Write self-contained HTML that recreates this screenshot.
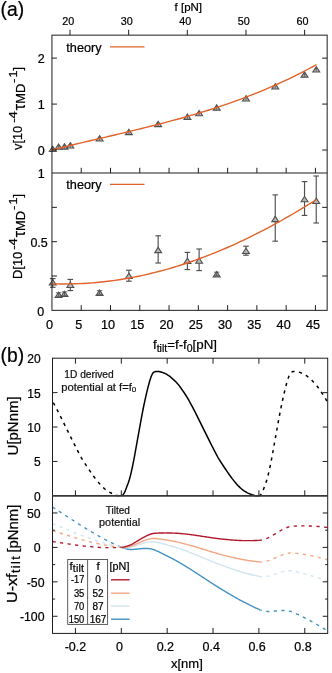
<!DOCTYPE html>
<html><head><meta charset="utf-8"><title>figure</title>
<style>html,body{margin:0;padding:0;background:#fff;}svg{display:block;will-change:transform;}text{font-family:"Liberation Sans", sans-serif;stroke:#000;stroke-width:0.22px;}</style></head><body>
<svg width="332" height="673" viewBox="0 0 332 673">
<rect x="0" y="0" width="332" height="673" fill="#ffffff"/>
<text x="0.50" y="15.90" font-size="19.3" text-anchor="start" fill="#000000" >(a)</text>
<line x1="52.75" y1="278.60" x2="52.75" y2="287.30" stroke="#505050" stroke-width="1.15" />
<line x1="49.95" y1="278.60" x2="55.55" y2="278.60" stroke="#505050" stroke-width="1.15" />
<line x1="49.95" y1="287.30" x2="55.55" y2="287.30" stroke="#505050" stroke-width="1.15" />
<line x1="70.32" y1="279.40" x2="70.32" y2="290.60" stroke="#505050" stroke-width="1.15" />
<line x1="67.52" y1="279.40" x2="73.12" y2="279.40" stroke="#505050" stroke-width="1.15" />
<line x1="67.52" y1="290.60" x2="73.12" y2="290.60" stroke="#505050" stroke-width="1.15" />
<line x1="128.87" y1="270.20" x2="128.87" y2="281.20" stroke="#505050" stroke-width="1.15" />
<line x1="126.07" y1="270.20" x2="131.67" y2="270.20" stroke="#505050" stroke-width="1.15" />
<line x1="126.07" y1="281.20" x2="131.67" y2="281.20" stroke="#505050" stroke-width="1.15" />
<line x1="158.15" y1="235.80" x2="158.15" y2="263.00" stroke="#505050" stroke-width="1.15" />
<line x1="155.35" y1="235.80" x2="160.95" y2="235.80" stroke="#505050" stroke-width="1.15" />
<line x1="155.35" y1="263.00" x2="160.95" y2="263.00" stroke="#505050" stroke-width="1.15" />
<line x1="187.42" y1="252.40" x2="187.42" y2="269.60" stroke="#505050" stroke-width="1.15" />
<line x1="184.62" y1="252.40" x2="190.22" y2="252.40" stroke="#505050" stroke-width="1.15" />
<line x1="184.62" y1="269.60" x2="190.22" y2="269.60" stroke="#505050" stroke-width="1.15" />
<line x1="199.13" y1="249.00" x2="199.13" y2="270.60" stroke="#505050" stroke-width="1.15" />
<line x1="196.33" y1="249.00" x2="201.93" y2="249.00" stroke="#505050" stroke-width="1.15" />
<line x1="196.33" y1="270.60" x2="201.93" y2="270.60" stroke="#505050" stroke-width="1.15" />
<line x1="245.98" y1="246.20" x2="245.98" y2="255.20" stroke="#505050" stroke-width="1.15" />
<line x1="243.18" y1="246.20" x2="248.78" y2="246.20" stroke="#505050" stroke-width="1.15" />
<line x1="243.18" y1="255.20" x2="248.78" y2="255.20" stroke="#505050" stroke-width="1.15" />
<line x1="275.25" y1="194.90" x2="275.25" y2="241.20" stroke="#505050" stroke-width="1.15" />
<line x1="272.45" y1="194.90" x2="278.05" y2="194.90" stroke="#505050" stroke-width="1.15" />
<line x1="272.45" y1="241.20" x2="278.05" y2="241.20" stroke="#505050" stroke-width="1.15" />
<line x1="304.53" y1="181.60" x2="304.53" y2="215.40" stroke="#505050" stroke-width="1.15" />
<line x1="301.73" y1="181.60" x2="307.33" y2="181.60" stroke="#505050" stroke-width="1.15" />
<line x1="301.73" y1="215.40" x2="307.33" y2="215.40" stroke="#505050" stroke-width="1.15" />
<line x1="316.24" y1="176.00" x2="316.24" y2="223.00" stroke="#505050" stroke-width="1.15" />
<line x1="313.44" y1="176.00" x2="319.04" y2="176.00" stroke="#505050" stroke-width="1.15" />
<line x1="313.44" y1="223.00" x2="319.04" y2="223.00" stroke="#505050" stroke-width="1.15" />
<path d="M52.75,279.65 L56.20,284.95 L49.30,284.95 Z" fill="#bababa" stroke="#505050" stroke-width="1.1" stroke-linejoin="miter"/>
<path d="M58.61,292.15 L62.06,297.45 L55.16,297.45 Z" fill="#bababa" stroke="#505050" stroke-width="1.1" stroke-linejoin="miter"/>
<line x1="58.61" y1="292.80" x2="58.61" y2="296.30" stroke="#505050" stroke-width="0.9" />
<line x1="55.91" y1="292.80" x2="61.31" y2="292.80" stroke="#505050" stroke-width="0.9" />
<line x1="56.41" y1="296.30" x2="60.81" y2="296.30" stroke="#505050" stroke-width="0.9" />
<path d="M64.46,291.25 L67.91,296.55 L61.01,296.55 Z" fill="#bababa" stroke="#505050" stroke-width="1.1" stroke-linejoin="miter"/>
<line x1="64.46" y1="291.90" x2="64.46" y2="295.40" stroke="#505050" stroke-width="0.9" />
<line x1="61.76" y1="291.90" x2="67.16" y2="291.90" stroke="#505050" stroke-width="0.9" />
<line x1="62.26" y1="295.40" x2="66.66" y2="295.40" stroke="#505050" stroke-width="0.9" />
<path d="M70.32,282.15 L73.77,287.45 L66.87,287.45 Z" fill="#bababa" stroke="#505050" stroke-width="1.1" stroke-linejoin="miter"/>
<path d="M99.59,290.05 L103.04,295.35 L96.14,295.35 Z" fill="#bababa" stroke="#505050" stroke-width="1.1" stroke-linejoin="miter"/>
<line x1="99.59" y1="290.70" x2="99.59" y2="294.20" stroke="#505050" stroke-width="0.9" />
<line x1="96.89" y1="290.70" x2="102.29" y2="290.70" stroke="#505050" stroke-width="0.9" />
<line x1="97.39" y1="294.20" x2="101.79" y2="294.20" stroke="#505050" stroke-width="0.9" />
<path d="M128.87,273.15 L132.32,278.45 L125.42,278.45 Z" fill="#bababa" stroke="#505050" stroke-width="1.1" stroke-linejoin="miter"/>
<path d="M158.15,247.35 L161.60,252.65 L154.70,252.65 Z" fill="#bababa" stroke="#505050" stroke-width="1.1" stroke-linejoin="miter"/>
<path d="M187.42,258.25 L190.87,263.55 L183.97,263.55 Z" fill="#bababa" stroke="#505050" stroke-width="1.1" stroke-linejoin="miter"/>
<path d="M199.13,257.95 L202.58,263.25 L195.68,263.25 Z" fill="#bababa" stroke="#505050" stroke-width="1.1" stroke-linejoin="miter"/>
<path d="M216.70,271.55 L220.15,276.85 L213.25,276.85 Z" fill="#bababa" stroke="#505050" stroke-width="1.1" stroke-linejoin="miter"/>
<line x1="216.70" y1="272.20" x2="216.70" y2="275.70" stroke="#505050" stroke-width="0.9" />
<line x1="214.00" y1="272.20" x2="219.40" y2="272.20" stroke="#505050" stroke-width="0.9" />
<line x1="214.50" y1="275.70" x2="218.90" y2="275.70" stroke="#505050" stroke-width="0.9" />
<path d="M245.98,248.15 L249.43,253.45 L242.53,253.45 Z" fill="#bababa" stroke="#505050" stroke-width="1.1" stroke-linejoin="miter"/>
<path d="M275.25,216.35 L278.70,221.65 L271.80,221.65 Z" fill="#bababa" stroke="#505050" stroke-width="1.1" stroke-linejoin="miter"/>
<path d="M304.53,196.45 L307.98,201.75 L301.08,201.75 Z" fill="#bababa" stroke="#505050" stroke-width="1.1" stroke-linejoin="miter"/>
<path d="M316.24,198.15 L319.69,203.45 L312.79,203.45 Z" fill="#bababa" stroke="#505050" stroke-width="1.1" stroke-linejoin="miter"/>
<path d="M52.75,146.25 L56.20,151.55 L49.30,151.55 Z" fill="#bababa" stroke="#505050" stroke-width="1.1" stroke-linejoin="miter"/>
<line x1="52.75" y1="147.70" x2="52.75" y2="151.00" stroke="#505050" stroke-width="0.8" />
<line x1="51.25" y1="148.20" x2="54.25" y2="148.20" stroke="#505050" stroke-width="0.7" />
<path d="M58.61,143.95 L62.06,149.25 L55.16,149.25 Z" fill="#bababa" stroke="#505050" stroke-width="1.1" stroke-linejoin="miter"/>
<line x1="58.61" y1="145.40" x2="58.61" y2="148.70" stroke="#505050" stroke-width="0.8" />
<line x1="57.11" y1="145.90" x2="60.11" y2="145.90" stroke="#505050" stroke-width="0.7" />
<path d="M64.46,143.85 L67.91,149.15 L61.01,149.15 Z" fill="#bababa" stroke="#505050" stroke-width="1.1" stroke-linejoin="miter"/>
<line x1="64.46" y1="145.30" x2="64.46" y2="148.60" stroke="#505050" stroke-width="0.8" />
<line x1="62.96" y1="145.80" x2="65.96" y2="145.80" stroke="#505050" stroke-width="0.7" />
<path d="M70.32,142.65 L73.77,147.95 L66.87,147.95 Z" fill="#bababa" stroke="#505050" stroke-width="1.1" stroke-linejoin="miter"/>
<line x1="70.32" y1="144.10" x2="70.32" y2="147.40" stroke="#505050" stroke-width="0.8" />
<line x1="68.82" y1="144.60" x2="71.82" y2="144.60" stroke="#505050" stroke-width="0.7" />
<path d="M99.59,135.65 L103.04,140.95 L96.14,140.95 Z" fill="#bababa" stroke="#505050" stroke-width="1.1" stroke-linejoin="miter"/>
<line x1="99.59" y1="137.10" x2="99.59" y2="140.40" stroke="#505050" stroke-width="0.8" />
<line x1="98.09" y1="137.60" x2="101.09" y2="137.60" stroke="#505050" stroke-width="0.7" />
<path d="M128.87,129.35 L132.32,134.65 L125.42,134.65 Z" fill="#bababa" stroke="#505050" stroke-width="1.1" stroke-linejoin="miter"/>
<line x1="128.87" y1="130.80" x2="128.87" y2="134.10" stroke="#505050" stroke-width="0.8" />
<line x1="127.37" y1="131.30" x2="130.37" y2="131.30" stroke="#505050" stroke-width="0.7" />
<path d="M158.15,121.35 L161.60,126.65 L154.70,126.65 Z" fill="#bababa" stroke="#505050" stroke-width="1.1" stroke-linejoin="miter"/>
<line x1="158.15" y1="122.80" x2="158.15" y2="126.10" stroke="#505050" stroke-width="0.8" />
<line x1="156.65" y1="123.30" x2="159.65" y2="123.30" stroke="#505050" stroke-width="0.7" />
<path d="M187.42,114.05 L190.87,119.35 L183.97,119.35 Z" fill="#bababa" stroke="#505050" stroke-width="1.1" stroke-linejoin="miter"/>
<line x1="187.42" y1="115.50" x2="187.42" y2="118.80" stroke="#505050" stroke-width="0.8" />
<line x1="185.92" y1="116.00" x2="188.92" y2="116.00" stroke="#505050" stroke-width="0.7" />
<path d="M199.13,110.45 L202.58,115.75 L195.68,115.75 Z" fill="#bababa" stroke="#505050" stroke-width="1.1" stroke-linejoin="miter"/>
<line x1="199.13" y1="111.90" x2="199.13" y2="115.20" stroke="#505050" stroke-width="0.8" />
<line x1="197.63" y1="112.40" x2="200.63" y2="112.40" stroke="#505050" stroke-width="0.7" />
<path d="M216.70,104.85 L220.15,110.15 L213.25,110.15 Z" fill="#bababa" stroke="#505050" stroke-width="1.1" stroke-linejoin="miter"/>
<line x1="216.70" y1="106.30" x2="216.70" y2="109.60" stroke="#505050" stroke-width="0.8" />
<line x1="215.20" y1="106.80" x2="218.20" y2="106.80" stroke="#505050" stroke-width="0.7" />
<path d="M245.98,95.65 L249.43,100.95 L242.53,100.95 Z" fill="#bababa" stroke="#505050" stroke-width="1.1" stroke-linejoin="miter"/>
<line x1="245.98" y1="97.10" x2="245.98" y2="100.40" stroke="#505050" stroke-width="0.8" />
<line x1="244.48" y1="97.60" x2="247.48" y2="97.60" stroke="#505050" stroke-width="0.7" />
<path d="M275.25,83.65 L278.70,88.95 L271.80,88.95 Z" fill="#bababa" stroke="#505050" stroke-width="1.1" stroke-linejoin="miter"/>
<line x1="275.25" y1="85.10" x2="275.25" y2="88.40" stroke="#505050" stroke-width="0.8" />
<line x1="273.75" y1="85.60" x2="276.75" y2="85.60" stroke="#505050" stroke-width="0.7" />
<path d="M304.53,71.85 L307.98,77.15 L301.08,77.15 Z" fill="#bababa" stroke="#505050" stroke-width="1.1" stroke-linejoin="miter"/>
<line x1="304.53" y1="73.30" x2="304.53" y2="76.60" stroke="#505050" stroke-width="0.8" />
<line x1="303.03" y1="73.80" x2="306.03" y2="73.80" stroke="#505050" stroke-width="0.7" />
<path d="M316.24,66.65 L319.69,71.95 L312.79,71.95 Z" fill="#bababa" stroke="#505050" stroke-width="1.1" stroke-linejoin="miter"/>
<line x1="316.24" y1="68.10" x2="316.24" y2="71.40" stroke="#505050" stroke-width="0.8" />
<line x1="314.74" y1="68.60" x2="317.74" y2="68.60" stroke="#505050" stroke-width="0.7" />
<path d="M51.95,149.95 L56.43,148.83 L60.92,147.73 L65.40,146.63 L69.88,145.55 L74.36,144.47 L78.85,143.40 L83.33,142.34 L87.81,141.28 L92.30,140.22 L96.78,139.17 L101.26,138.12 L105.74,137.07 L110.23,136.01 L114.71,134.96 L119.19,133.90 L123.68,132.83 L128.16,131.76 L132.64,130.69 L137.12,129.60 L141.61,128.50 L146.09,127.39 L150.57,126.27 L155.06,125.14 L159.54,123.99 L164.02,122.82 L168.50,121.64 L172.99,120.44 L177.47,119.21 L181.95,117.97 L186.44,116.70 L190.92,115.41 L195.40,114.10 L199.88,112.76 L204.37,111.39 L208.85,109.99 L213.33,108.57 L217.82,107.11 L222.30,105.62 L226.78,104.10 L231.26,102.54 L235.75,100.94 L240.23,99.31 L244.71,97.64 L249.20,95.93 L253.68,94.18 L258.16,92.38 L262.64,90.54 L267.13,88.66 L271.61,86.73 L276.09,84.76 L280.58,82.73 L285.06,80.66 L289.54,78.54 L294.03,76.36 L298.51,74.13 L302.99,71.84 L307.47,69.50 L311.96,67.10 L316.44,64.64" fill="none" stroke="#e2622a" stroke-width="1.4" stroke-linejoin="round" />
<path d="M51.95,283.70 L56.43,283.84 L60.92,283.93 L65.40,283.95 L69.88,283.92 L74.36,283.82 L78.85,283.67 L83.33,283.46 L87.81,283.19 L92.30,282.87 L96.78,282.48 L101.26,282.04 L105.74,281.55 L110.23,281.00 L114.71,280.39 L119.19,279.72 L123.68,279.00 L128.16,278.23 L132.64,277.40 L137.12,276.51 L141.61,275.57 L146.09,274.58 L150.57,273.53 L155.06,272.43 L159.54,271.27 L164.02,270.07 L168.50,268.81 L172.99,267.49 L177.47,266.13 L181.95,264.71 L186.44,263.24 L190.92,261.72 L195.40,260.15 L199.88,258.53 L204.37,256.86 L208.85,255.14 L213.33,253.37 L217.82,251.55 L222.30,249.67 L226.78,247.76 L231.26,245.79 L235.75,243.77 L240.23,241.70 L244.71,239.59 L249.20,237.43 L253.68,235.22 L258.16,232.97 L262.64,230.67 L267.13,228.32 L271.61,225.92 L276.09,223.48 L280.58,221.00 L285.06,218.47 L289.54,215.89 L294.03,213.27 L298.51,210.60 L302.99,207.89 L307.47,205.14 L311.96,202.34 L316.44,199.50" fill="none" stroke="#e2622a" stroke-width="1.4" stroke-linejoin="round" />
<rect x="51.95" y="35.15" width="275.20" height="275.20" fill="none" stroke="#1e1e1e" stroke-width="1.0"/>
<line x1="51.95" y1="173.00" x2="327.15" y2="173.00" stroke="#1e1e1e" stroke-width="1.0" />
<line x1="70.02" y1="35.15" x2="70.02" y2="29.75" stroke="#1e1e1e" stroke-width="1.0" />
<text x="68.22" y="25.30" font-size="10.8" text-anchor="middle" fill="#000000" >20</text>
<line x1="128.67" y1="35.15" x2="128.67" y2="29.75" stroke="#1e1e1e" stroke-width="1.0" />
<text x="126.77" y="25.30" font-size="10.8" text-anchor="middle" fill="#000000" >30</text>
<line x1="187.32" y1="35.15" x2="187.32" y2="29.75" stroke="#1e1e1e" stroke-width="1.0" />
<text x="185.32" y="25.30" font-size="10.8" text-anchor="middle" fill="#000000" >40</text>
<line x1="245.98" y1="35.15" x2="245.98" y2="29.75" stroke="#1e1e1e" stroke-width="1.0" />
<text x="243.88" y="25.30" font-size="10.8" text-anchor="middle" fill="#000000" >50</text>
<line x1="304.63" y1="35.15" x2="304.63" y2="29.75" stroke="#1e1e1e" stroke-width="1.0" />
<text x="302.43" y="25.30" font-size="10.8" text-anchor="middle" fill="#000000" >60</text>
<text x="188.30" y="11.00" font-size="11.5" text-anchor="middle" fill="#000000" >f [pN]</text>
<line x1="81.23" y1="173.00" x2="81.23" y2="167.80" stroke="#1e1e1e" stroke-width="1.0" />
<line x1="81.23" y1="310.35" x2="81.23" y2="305.15" stroke="#1e1e1e" stroke-width="1.0" />
<line x1="110.50" y1="173.00" x2="110.50" y2="167.80" stroke="#1e1e1e" stroke-width="1.0" />
<line x1="110.50" y1="310.35" x2="110.50" y2="305.15" stroke="#1e1e1e" stroke-width="1.0" />
<line x1="139.78" y1="173.00" x2="139.78" y2="167.80" stroke="#1e1e1e" stroke-width="1.0" />
<line x1="139.78" y1="310.35" x2="139.78" y2="305.15" stroke="#1e1e1e" stroke-width="1.0" />
<line x1="169.06" y1="173.00" x2="169.06" y2="167.80" stroke="#1e1e1e" stroke-width="1.0" />
<line x1="169.06" y1="310.35" x2="169.06" y2="305.15" stroke="#1e1e1e" stroke-width="1.0" />
<line x1="198.33" y1="173.00" x2="198.33" y2="167.80" stroke="#1e1e1e" stroke-width="1.0" />
<line x1="198.33" y1="310.35" x2="198.33" y2="305.15" stroke="#1e1e1e" stroke-width="1.0" />
<line x1="227.61" y1="173.00" x2="227.61" y2="167.80" stroke="#1e1e1e" stroke-width="1.0" />
<line x1="227.61" y1="310.35" x2="227.61" y2="305.15" stroke="#1e1e1e" stroke-width="1.0" />
<line x1="256.89" y1="173.00" x2="256.89" y2="167.80" stroke="#1e1e1e" stroke-width="1.0" />
<line x1="256.89" y1="310.35" x2="256.89" y2="305.15" stroke="#1e1e1e" stroke-width="1.0" />
<line x1="286.16" y1="173.00" x2="286.16" y2="167.80" stroke="#1e1e1e" stroke-width="1.0" />
<line x1="286.16" y1="310.35" x2="286.16" y2="305.15" stroke="#1e1e1e" stroke-width="1.0" />
<line x1="315.44" y1="173.00" x2="315.44" y2="167.80" stroke="#1e1e1e" stroke-width="1.0" />
<line x1="315.44" y1="310.35" x2="315.44" y2="305.15" stroke="#1e1e1e" stroke-width="1.0" />
<text x="49.45" y="328.50" font-size="12.7" text-anchor="middle" fill="#000000" >0</text>
<text x="78.73" y="328.50" font-size="12.7" text-anchor="middle" fill="#000000" >5</text>
<text x="108.00" y="328.50" font-size="12.7" text-anchor="middle" fill="#000000" >10</text>
<text x="137.28" y="328.50" font-size="12.7" text-anchor="middle" fill="#000000" >15</text>
<text x="166.56" y="328.50" font-size="12.7" text-anchor="middle" fill="#000000" >20</text>
<text x="195.83" y="328.50" font-size="12.7" text-anchor="middle" fill="#000000" >25</text>
<text x="225.11" y="328.50" font-size="12.7" text-anchor="middle" fill="#000000" >30</text>
<text x="254.39" y="328.50" font-size="12.7" text-anchor="middle" fill="#000000" >35</text>
<text x="283.66" y="328.50" font-size="12.7" text-anchor="middle" fill="#000000" >40</text>
<text x="312.94" y="328.50" font-size="12.7" text-anchor="middle" fill="#000000" >45</text>
<line x1="51.95" y1="150.03" x2="56.95" y2="150.03" stroke="#1e1e1e" stroke-width="1.0" />
<line x1="327.15" y1="150.03" x2="322.15" y2="150.03" stroke="#1e1e1e" stroke-width="1.0" />
<text x="44.60" y="155.03" font-size="12.5" text-anchor="end" fill="#000000" >0</text>
<line x1="51.95" y1="104.08" x2="56.95" y2="104.08" stroke="#1e1e1e" stroke-width="1.0" />
<line x1="327.15" y1="104.08" x2="322.15" y2="104.08" stroke="#1e1e1e" stroke-width="1.0" />
<text x="44.60" y="109.08" font-size="12.5" text-anchor="end" fill="#000000" >1</text>
<line x1="51.95" y1="58.12" x2="56.95" y2="58.12" stroke="#1e1e1e" stroke-width="1.0" />
<line x1="327.15" y1="58.12" x2="322.15" y2="58.12" stroke="#1e1e1e" stroke-width="1.0" />
<text x="44.60" y="63.12" font-size="12.5" text-anchor="end" fill="#000000" >2</text>
<line x1="51.95" y1="276.01" x2="56.95" y2="276.01" stroke="#1e1e1e" stroke-width="1.0" />
<line x1="327.15" y1="276.01" x2="322.15" y2="276.01" stroke="#1e1e1e" stroke-width="1.0" />
<line x1="51.95" y1="241.68" x2="56.95" y2="241.68" stroke="#1e1e1e" stroke-width="1.0" />
<line x1="327.15" y1="241.68" x2="322.15" y2="241.68" stroke="#1e1e1e" stroke-width="1.0" />
<line x1="51.95" y1="207.34" x2="56.95" y2="207.34" stroke="#1e1e1e" stroke-width="1.0" />
<line x1="327.15" y1="207.34" x2="322.15" y2="207.34" stroke="#1e1e1e" stroke-width="1.0" />
<text x="44.60" y="178.00" font-size="12.5" text-anchor="end" fill="#000000" >1</text>
<text x="47.80" y="246.68" font-size="12.5" text-anchor="end" fill="#000000" >0.5</text>
<text x="44.30" y="316.15" font-size="12.5" text-anchor="end" fill="#000000" >0</text>
<text x="66.30" y="51.80" font-size="12.5" text-anchor="start" fill="#000000" textLength="35.3" lengthAdjust="spacingAndGlyphs">theory</text>
<line x1="110.00" y1="46.90" x2="144.50" y2="46.90" stroke="#e2622a" stroke-width="1.4" />
<text x="66.30" y="189.30" font-size="12.5" text-anchor="start" fill="#000000" textLength="35.3" lengthAdjust="spacingAndGlyphs">theory</text>
<line x1="110.00" y1="184.40" x2="144.50" y2="184.40" stroke="#e2622a" stroke-width="1.4" />
<g transform="translate(0,150.0) rotate(-90)">
<text x="0" y="21.9" font-size="12.5" fill="#000000" textLength="24.2" lengthAdjust="spacingAndGlyphs">v[10</text>
<text x="27.30" y="16.6" font-size="10.3" fill="#000000" textLength="11.4" lengthAdjust="spacingAndGlyphs">-4</text>
<text x="39.80" y="24.5" font-size="16" fill="#000000">&#964;</text>
<text x="46.20" y="24.5" font-size="13" fill="#000000" textLength="20.0" lengthAdjust="spacingAndGlyphs">MD</text>
<text x="67.00" y="17.2" font-size="10.3" fill="#000000" textLength="4.2" lengthAdjust="spacingAndGlyphs">-</text>
<text x="72.60" y="17.2" font-size="10.8" fill="#000000" textLength="7.0" lengthAdjust="spacingAndGlyphs">1</text>
<text x="79.60" y="21.9" font-size="12.5" fill="#000000">]</text>
</g>
<g transform="translate(0,279.0) rotate(-90)">
<text x="0" y="21.9" font-size="12.5" fill="#000000" textLength="27.2" lengthAdjust="spacingAndGlyphs">D[10</text>
<text x="29.20" y="16.6" font-size="10.3" fill="#000000" textLength="11.4" lengthAdjust="spacingAndGlyphs">-4</text>
<text x="41.70" y="24.5" font-size="16" fill="#000000">&#964;</text>
<text x="48.10" y="24.5" font-size="13" fill="#000000" textLength="20.0" lengthAdjust="spacingAndGlyphs">MD</text>
<text x="68.90" y="17.2" font-size="10.3" fill="#000000" textLength="4.2" lengthAdjust="spacingAndGlyphs">-</text>
<text x="74.50" y="17.2" font-size="10.8" fill="#000000" textLength="7.0" lengthAdjust="spacingAndGlyphs">1</text>
<text x="81.50" y="21.9" font-size="12.5" fill="#000000">]</text>
</g>
<text x="153.0" y="348.9" font-size="13.2" fill="#000000" textLength="64.0" lengthAdjust="spacingAndGlyphs">f<tspan font-size="10.4" dy="2.9">tilt</tspan><tspan dy="-2.9">=f-f</tspan><tspan font-size="10.4" dy="2.9">0</tspan><tspan dy="-2.9">[pN]</tspan></text>
<text x="0.50" y="361.90" font-size="19.3" text-anchor="start" fill="#000000" >(b)</text>
<path d="M53.30,402.67 L54.30,404.49 L55.29,406.33 L56.29,408.19 L57.29,410.07 L58.29,412.00 L59.28,413.97 L60.28,415.99 L61.28,418.01 L62.27,420.04 L63.27,422.04 L64.27,424.04 L65.27,426.04 L66.26,428.05 L67.26,430.06 L68.26,432.07 L69.25,434.11 L70.25,436.14 L71.25,438.17 L72.24,440.18 L73.24,442.17 L74.24,444.15 L75.24,446.12 L76.23,448.07 L77.23,449.99 L78.23,451.91 L79.22,453.82 L80.22,455.70 L81.22,457.51 L82.22,459.22 L83.21,460.83 L84.21,462.36 L85.21,463.86 L86.20,465.34 L87.20,466.84 L88.20,468.35 L89.20,469.85 L90.19,471.33 L91.19,472.79 L92.19,474.21 L93.18,475.61 L94.18,476.99 L95.18,478.33 L96.18,479.63 L97.17,480.88 L98.17,482.11 L99.17,483.31 L100.16,484.44 L101.16,485.51 L102.16,486.51 L103.16,487.48 L104.15,488.38 L105.15,489.23 L106.15,489.99 L107.14,490.70 L108.14,491.36 L109.14,491.97 L110.13,492.52 L111.10,493.02 L112.02,493.48 L112.95,493.91 L113.88,494.30 L114.81,494.65 L115.73,494.96 L116.66,495.28 L117.59,495.55 L118.52,495.73 L119.44,495.79 L120.37,495.83 L121.30,495.85" fill="none" stroke="#000" stroke-width="1.5" stroke-linejoin="round" stroke-dasharray="3.2 4.4"/>
<path d="M258.90,495.85 L259.90,495.42 L260.89,494.45 L261.89,492.80 L262.89,490.78 L263.89,488.20 L264.88,485.48 L265.88,482.76 L266.88,479.77 L267.87,476.24 L268.87,472.12 L269.87,467.66 L270.87,462.74 L271.86,457.53 L272.86,452.10 L273.86,446.47 L274.85,440.92 L275.85,435.41 L276.85,429.90 L277.84,424.27 L278.84,418.73 L279.84,413.49 L280.84,408.48 L281.83,403.67 L282.83,399.02 L283.83,394.59 L284.82,390.37 L285.82,386.38 L286.82,382.75 L287.82,379.34 L288.81,376.53 L289.81,374.20 L290.81,372.72 L291.80,372.01 L292.80,371.60 L293.80,371.56 L294.80,371.56 L295.79,371.56 L296.79,371.61 L297.79,371.79 L298.78,372.07 L299.78,372.40 L300.78,372.74 L301.78,373.12 L302.77,373.56 L303.77,374.08 L304.77,374.64 L305.76,375.25 L306.76,375.94 L307.76,376.73 L308.76,377.59 L309.75,378.47 L310.75,379.37 L311.75,380.27 L312.74,381.21 L313.74,382.19 L314.74,383.24 L315.73,384.37 L316.73,385.63 L317.73,386.99 L318.73,388.40 L319.72,389.84 L320.72,391.27 L321.72,392.71 L322.71,394.18 L323.71,395.70 L324.71,397.29 L325.71,398.99 L326.70,400.82 L327.70,402.67" fill="none" stroke="#000" stroke-width="1.5" stroke-linejoin="round" stroke-dasharray="3.2 4.4"/>
<path d="M121.30,495.85 L122.29,495.42 L123.28,494.47 L124.27,492.84 L125.26,490.84 L126.25,488.29 L127.24,485.60 L128.23,482.90 L129.22,479.96 L130.21,476.48 L131.20,472.43 L132.19,468.03 L133.18,463.18 L134.17,458.02 L135.16,452.66 L136.15,447.08 L137.14,441.55 L138.13,436.09 L139.12,430.61 L140.11,425.04 L141.10,419.51 L142.09,414.27 L143.08,409.26 L144.07,404.46 L145.06,399.81 L146.05,395.37 L147.04,391.15 L148.03,387.13 L149.02,383.46 L150.01,380.02 L151.00,377.07 L151.99,374.68 L152.98,372.94 L153.97,372.15 L154.96,371.66 L155.95,371.56 L156.94,371.56 L157.93,371.56 L158.92,371.58 L159.91,371.73 L160.90,371.98 L161.89,372.30 L162.88,372.64 L163.87,372.99 L164.86,373.41 L165.85,373.90 L166.84,374.45 L167.83,375.04 L168.82,375.69 L169.81,376.45 L170.80,377.27 L171.79,378.15 L172.78,379.03 L173.77,379.92 L174.76,380.84 L175.75,381.79 L176.74,382.81 L177.73,383.89 L178.72,385.09 L179.71,386.40 L180.70,387.79 L181.69,389.21 L182.68,390.63 L183.67,392.05 L184.66,393.50 L185.65,394.98 L186.64,396.52 L187.63,398.15 L188.62,399.92 L189.61,401.76 L190.59,403.57 L191.58,405.39 L192.57,407.22 L193.56,409.08 L194.55,410.97 L195.54,412.90 L196.53,414.88 L197.52,416.89 L198.51,418.90 L199.50,420.90 L200.49,422.89 L201.48,424.88 L202.47,426.87 L203.46,428.86 L204.45,430.85 L205.44,432.86 L206.43,434.88 L207.42,436.90 L208.41,438.91 L209.40,440.89 L210.39,442.87 L211.38,444.83 L212.37,446.78 L213.36,448.70 L214.35,450.61 L215.34,452.51 L216.33,454.41 L217.32,456.26 L218.31,458.03 L219.30,459.69 L220.29,461.26 L221.28,462.77 L222.27,464.25 L223.26,465.73 L224.25,467.22 L225.24,468.72 L226.23,470.20 L227.22,471.67 L228.21,473.11 L229.20,474.51 L230.19,475.90 L231.18,477.26 L232.17,478.59 L233.16,479.86 L234.15,481.11 L235.14,482.32 L236.13,483.50 L237.12,484.62 L238.11,485.66 L239.10,486.65 L240.09,487.60 L241.08,488.50 L242.07,489.33 L243.06,490.08 L244.05,490.77 L245.04,491.42 L246.03,492.02 L247.02,492.57 L248.01,493.06 L249.00,493.51 L249.99,493.93 L250.98,494.32 L251.97,494.66 L252.96,494.97 L253.95,495.29 L254.94,495.56 L255.93,495.73 L256.92,495.79 L257.91,495.83 L258.90,495.85" fill="none" stroke="#000" stroke-width="1.5" stroke-linejoin="round" />
<clipPath id="cb"><rect x="52.5" y="495.85" width="275.20" height="137.55"/></clipPath>
<g clip-path="url(#cb)">
<path d="M52.50,507.08 L53.50,507.72 L54.49,508.35 L55.49,508.98 L56.49,509.62 L57.49,510.26 L58.48,510.91 L59.48,511.56 L60.48,512.21 L61.47,512.86 L62.47,513.51 L63.47,514.16 L64.47,514.81 L65.46,515.46 L66.46,516.11 L67.46,516.76 L68.45,517.42 L69.45,518.07 L70.45,518.72 L71.44,519.37 L72.44,520.02 L73.44,520.67 L74.44,521.31 L75.43,521.96 L76.43,522.60 L77.43,523.24 L78.42,523.88 L79.42,524.52 L80.42,525.15 L81.42,525.77 L82.41,526.38 L83.41,526.98 L84.41,527.58 L85.40,528.18 L86.40,528.78 L87.40,529.38 L88.40,529.98 L89.39,530.57 L90.39,531.17 L91.39,531.76 L92.38,532.35 L93.38,532.94 L94.38,533.52 L95.38,534.10 L96.37,534.67 L97.37,535.25 L98.37,535.81 L99.36,536.38 L100.36,536.93 L101.36,537.48 L102.36,538.03 L103.35,538.57 L104.35,539.10 L105.35,539.63 L106.34,540.15 L107.34,540.66 L108.34,541.17 L109.33,541.68 L110.33,542.18 L111.33,542.67 L112.33,543.16 L113.32,543.65 L114.32,544.14 L115.32,544.62 L116.31,545.10 L117.31,545.57 L118.31,546.04 L119.31,546.50 L120.30,546.95 L121.30,547.40" fill="none" stroke="#4393c3" stroke-width="1.4" stroke-linejoin="round" stroke-dasharray="3.2 4.4"/>
<path d="M258.90,609.38 L259.90,609.79 L260.89,610.14 L261.89,610.42 L262.89,610.67 L263.89,610.86 L264.88,611.04 L265.88,611.22 L266.88,611.37 L267.87,611.46 L268.87,611.50 L269.87,611.50 L270.87,611.46 L271.86,611.39 L272.86,611.29 L273.86,611.18 L274.85,611.07 L275.85,610.97 L276.85,610.87 L277.84,610.75 L278.84,610.65 L279.84,610.57 L280.84,610.52 L281.83,610.49 L282.83,610.47 L283.83,610.48 L284.82,610.51 L285.82,610.56 L286.82,610.64 L287.82,610.75 L288.81,610.92 L289.81,611.13 L290.81,611.44 L291.80,611.81 L292.80,612.22 L293.80,612.67 L294.80,613.12 L295.79,613.56 L296.79,614.02 L297.79,614.49 L298.78,614.96 L299.78,615.45 L300.78,615.93 L301.78,616.42 L302.77,616.91 L303.77,617.41 L304.77,617.92 L305.76,618.43 L306.76,618.94 L307.76,619.47 L308.76,620.01 L309.75,620.54 L310.75,621.08 L311.75,621.62 L312.74,622.17 L313.74,622.71 L314.74,623.27 L315.73,623.83 L316.73,624.40 L317.73,624.99 L318.73,625.58 L319.72,626.17 L320.72,626.77 L321.72,627.36 L322.71,627.95 L323.71,628.56 L324.71,629.16 L325.71,629.78 L326.70,630.42 L327.70,631.05" fill="none" stroke="#4393c3" stroke-width="1.4" stroke-linejoin="round" stroke-dasharray="3.2 4.4"/>
<path d="M121.30,547.40 L122.29,547.80 L123.28,548.15 L124.27,548.44 L125.26,548.68 L126.25,548.87 L127.24,549.05 L128.23,549.23 L129.22,549.38 L130.21,549.48 L131.20,549.52 L132.19,549.52 L133.18,549.48 L134.17,549.41 L135.16,549.32 L136.15,549.21 L137.14,549.10 L138.13,549.00 L139.12,548.90 L140.11,548.79 L141.10,548.68 L142.09,548.60 L143.08,548.55 L144.07,548.51 L145.06,548.49 L146.05,548.49 L147.04,548.52 L148.03,548.56 L149.02,548.64 L150.01,548.74 L151.00,548.89 L151.99,549.10 L152.98,549.37 L153.97,549.74 L154.96,550.13 L155.95,550.57 L156.94,551.02 L157.93,551.46 L158.92,551.91 L159.91,552.37 L160.90,552.84 L161.89,553.32 L162.88,553.80 L163.87,554.28 L164.86,554.77 L165.85,555.26 L166.84,555.76 L167.83,556.27 L168.82,556.78 L169.81,557.30 L170.80,557.83 L171.79,558.36 L172.78,558.90 L173.77,559.43 L174.76,559.97 L175.75,560.51 L176.74,561.06 L177.73,561.61 L178.72,562.18 L179.71,562.76 L180.70,563.34 L181.69,563.93 L182.68,564.52 L183.67,565.11 L184.66,565.70 L185.65,566.29 L186.64,566.89 L187.63,567.50 L188.62,568.12 L189.61,568.75 L190.59,569.38 L191.58,570.01 L192.57,570.64 L193.56,571.27 L194.55,571.90 L195.54,572.54 L196.53,573.19 L197.52,573.83 L198.51,574.48 L199.50,575.13 L200.49,575.77 L201.48,576.42 L202.47,577.06 L203.46,577.71 L204.45,578.35 L205.44,579.00 L206.43,579.65 L207.42,580.30 L208.41,580.94 L209.40,581.59 L210.39,582.23 L211.38,582.87 L212.37,583.51 L213.36,584.15 L214.35,584.79 L215.34,585.43 L216.33,586.06 L217.32,586.69 L218.31,587.32 L219.30,587.93 L220.29,588.53 L221.28,589.13 L222.27,589.72 L223.26,590.32 L224.25,590.91 L225.24,591.51 L226.23,592.10 L227.22,592.69 L228.21,593.28 L229.20,593.87 L230.19,594.45 L231.18,595.04 L232.17,595.62 L233.16,596.19 L234.15,596.76 L235.14,597.33 L236.13,597.89 L237.12,598.45 L238.11,599.00 L239.10,599.54 L240.09,600.09 L241.08,600.62 L242.07,601.15 L243.06,601.67 L244.05,602.19 L245.04,602.70 L246.03,603.20 L247.02,603.70 L248.01,604.20 L249.00,604.69 L249.99,605.18 L250.98,605.66 L251.97,606.14 L252.96,606.62 L253.95,607.10 L254.94,607.57 L255.93,608.03 L256.92,608.49 L257.91,608.94 L258.90,609.38" fill="none" stroke="#4393c3" stroke-width="1.4" stroke-linejoin="round" />
<path d="M52.50,523.61 L53.50,524.01 L54.49,524.40 L55.49,524.79 L56.49,525.19 L57.49,525.59 L58.48,526.00 L59.48,526.41 L60.48,526.83 L61.47,527.24 L62.47,527.65 L63.47,528.06 L64.47,528.47 L65.46,528.88 L66.46,529.29 L67.46,529.70 L68.45,530.11 L69.45,530.53 L70.45,530.94 L71.44,531.35 L72.44,531.76 L73.44,532.17 L74.44,532.57 L75.43,532.98 L76.43,533.38 L77.43,533.78 L78.42,534.18 L79.42,534.58 L80.42,534.97 L81.42,535.35 L82.41,535.72 L83.41,536.08 L84.41,536.44 L85.40,536.80 L86.40,537.16 L87.40,537.52 L88.40,537.88 L89.39,538.24 L90.39,538.59 L91.39,538.95 L92.38,539.30 L93.38,539.64 L94.38,539.99 L95.38,540.33 L96.37,540.66 L97.37,540.99 L98.37,541.32 L99.36,541.65 L100.36,541.96 L101.36,542.27 L102.36,542.58 L103.35,542.88 L104.35,543.17 L105.35,543.46 L106.34,543.74 L107.34,544.02 L108.34,544.29 L109.33,544.55 L110.33,544.81 L111.33,545.07 L112.33,545.32 L113.32,545.57 L114.32,545.81 L115.32,546.05 L116.31,546.29 L117.31,546.53 L118.31,546.76 L119.31,546.98 L120.30,547.19 L121.30,547.40" fill="none" stroke="#d1e5f0" stroke-width="1.4" stroke-linejoin="round" stroke-dasharray="3.2 4.4"/>
<path d="M258.90,576.33 L259.90,576.49 L260.89,576.60 L261.89,576.65 L262.89,576.66 L263.89,576.61 L264.88,576.55 L265.88,576.48 L266.88,576.39 L267.87,576.25 L268.87,576.05 L269.87,575.81 L270.87,575.53 L271.86,575.22 L272.86,574.88 L273.86,574.53 L274.85,574.18 L275.85,573.84 L276.85,573.50 L277.84,573.15 L278.84,572.80 L279.84,572.49 L280.84,572.19 L281.83,571.92 L282.83,571.67 L283.83,571.43 L284.82,571.22 L285.82,571.03 L286.82,570.88 L287.82,570.75 L288.81,570.67 L289.81,570.65 L290.81,570.71 L291.80,570.85 L292.80,571.02 L293.80,571.22 L294.80,571.43 L295.79,571.64 L296.79,571.86 L297.79,572.09 L298.78,572.32 L299.78,572.57 L300.78,572.81 L301.78,573.06 L302.77,573.31 L303.77,573.57 L304.77,573.84 L305.76,574.11 L306.76,574.39 L307.76,574.68 L308.76,574.97 L309.75,575.27 L310.75,575.57 L311.75,575.87 L312.74,576.17 L313.74,576.48 L314.74,576.79 L315.73,577.12 L316.73,577.45 L317.73,577.80 L318.73,578.15 L319.72,578.50 L320.72,578.86 L321.72,579.21 L322.71,579.57 L323.71,579.93 L324.71,580.30 L325.71,580.68 L326.70,581.07 L327.70,581.46" fill="none" stroke="#d1e5f0" stroke-width="1.4" stroke-linejoin="round" stroke-dasharray="3.2 4.4"/>
<path d="M121.30,547.40 L122.29,547.57 L123.28,547.68 L124.27,547.72 L125.26,547.73 L126.25,547.68 L127.24,547.62 L128.23,547.56 L129.22,547.47 L130.21,547.33 L131.20,547.14 L132.19,546.91 L133.18,546.63 L134.17,546.32 L135.16,545.99 L136.15,545.64 L137.14,545.30 L138.13,544.96 L139.12,544.62 L140.11,544.27 L141.10,543.92 L142.09,543.61 L143.08,543.31 L144.07,543.04 L145.06,542.78 L146.05,542.55 L147.04,542.33 L148.03,542.14 L149.02,541.98 L150.01,541.84 L151.00,541.76 L151.99,541.73 L152.98,541.76 L153.97,541.89 L154.96,542.05 L155.95,542.25 L156.94,542.45 L157.93,542.66 L158.92,542.87 L159.91,543.10 L160.90,543.33 L161.89,543.57 L162.88,543.81 L163.87,544.05 L164.86,544.30 L165.85,544.56 L166.84,544.82 L167.83,545.09 L168.82,545.37 L169.81,545.65 L170.80,545.94 L171.79,546.23 L172.78,546.53 L173.77,546.83 L174.76,547.13 L175.75,547.43 L176.74,547.74 L177.73,548.06 L178.72,548.39 L179.71,548.73 L180.70,549.07 L181.69,549.42 L182.68,549.77 L183.67,550.12 L184.66,550.48 L185.65,550.83 L186.64,551.20 L187.63,551.57 L188.62,551.95 L189.61,552.34 L190.59,552.73 L191.58,553.12 L192.57,553.51 L193.56,553.91 L194.55,554.31 L195.54,554.71 L196.53,555.11 L197.52,555.52 L198.51,555.93 L199.50,556.34 L200.49,556.75 L201.48,557.15 L202.47,557.56 L203.46,557.97 L204.45,558.38 L205.44,558.79 L206.43,559.20 L207.42,559.61 L208.41,560.01 L209.40,560.42 L210.39,560.83 L211.38,561.23 L212.37,561.63 L213.36,562.04 L214.35,562.43 L215.34,562.83 L216.33,563.23 L217.32,563.62 L218.31,564.01 L219.30,564.38 L220.29,564.75 L221.28,565.11 L222.27,565.46 L223.26,565.82 L224.25,566.18 L225.24,566.54 L226.23,566.89 L227.22,567.25 L228.21,567.60 L229.20,567.95 L230.19,568.29 L231.18,568.64 L232.17,568.98 L233.16,569.32 L234.15,569.65 L235.14,569.98 L236.13,570.30 L237.12,570.62 L238.11,570.94 L239.10,571.24 L240.09,571.55 L241.08,571.84 L242.07,572.13 L243.06,572.42 L244.05,572.70 L245.04,572.97 L246.03,573.24 L247.02,573.50 L248.01,573.76 L249.00,574.01 L249.99,574.26 L250.98,574.51 L251.97,574.75 L252.96,574.99 L253.95,575.23 L254.94,575.46 L255.93,575.69 L256.92,575.90 L257.91,576.12 L258.90,576.33" fill="none" stroke="#d1e5f0" stroke-width="1.4" stroke-linejoin="round" />
<path d="M52.50,530.84 L53.50,531.13 L54.49,531.42 L55.49,531.71 L56.49,532.00 L57.49,532.30 L58.48,532.60 L59.48,532.91 L60.48,533.22 L61.47,533.53 L62.47,533.83 L63.47,534.14 L64.47,534.44 L65.46,534.75 L66.46,535.05 L67.46,535.36 L68.45,535.67 L69.45,535.98 L70.45,536.28 L71.44,536.59 L72.44,536.89 L73.44,537.20 L74.44,537.50 L75.43,537.80 L76.43,538.09 L77.43,538.39 L78.42,538.69 L79.42,538.98 L80.42,539.27 L81.42,539.54 L82.41,539.81 L83.41,540.07 L84.41,540.32 L85.40,540.57 L86.40,540.83 L87.40,541.08 L88.40,541.34 L89.39,541.59 L90.39,541.84 L91.39,542.09 L92.38,542.34 L93.38,542.58 L94.38,542.82 L95.38,543.05 L96.37,543.28 L97.37,543.51 L98.37,543.73 L99.36,543.95 L100.36,544.16 L101.36,544.37 L102.36,544.57 L103.35,544.77 L104.35,544.96 L105.35,545.14 L106.34,545.31 L107.34,545.48 L108.34,545.65 L109.33,545.81 L110.33,545.96 L111.33,546.12 L112.33,546.26 L113.32,546.41 L114.32,546.55 L115.32,546.68 L116.31,546.82 L117.31,546.95 L118.31,547.07 L119.31,547.18 L120.30,547.29 L121.30,547.40" fill="none" stroke="#f4a582" stroke-width="1.4" stroke-linejoin="round" stroke-dasharray="3.2 4.4"/>
<path d="M258.90,561.86 L259.90,561.92 L260.89,561.93 L261.89,561.87 L262.89,561.77 L263.89,561.62 L264.88,561.45 L265.88,561.29 L266.88,561.09 L267.87,560.84 L268.87,560.54 L269.87,560.19 L270.87,559.81 L271.86,559.39 L272.86,558.95 L273.86,558.49 L274.85,558.04 L275.85,557.60 L276.85,557.15 L277.84,556.69 L278.84,556.24 L279.84,555.82 L280.84,555.43 L281.83,555.05 L282.83,554.69 L283.83,554.35 L284.82,554.03 L285.82,553.74 L286.82,553.48 L287.82,553.24 L288.81,553.07 L289.81,552.94 L290.81,552.90 L291.80,552.93 L292.80,552.99 L293.80,553.09 L294.80,553.20 L295.79,553.30 L296.79,553.41 L297.79,553.54 L298.78,553.67 L299.78,553.81 L300.78,553.95 L301.78,554.09 L302.77,554.24 L303.77,554.39 L304.77,554.56 L305.76,554.72 L306.76,554.89 L307.76,555.08 L308.76,555.27 L309.75,555.46 L310.75,555.66 L311.75,555.85 L312.74,556.05 L313.74,556.25 L314.74,556.46 L315.73,556.68 L316.73,556.91 L317.73,557.15 L318.73,557.40 L319.72,557.65 L320.72,557.90 L321.72,558.14 L322.71,558.40 L323.71,558.65 L324.71,558.92 L325.71,559.19 L326.70,559.48 L327.70,559.77" fill="none" stroke="#f4a582" stroke-width="1.4" stroke-linejoin="round" stroke-dasharray="3.2 4.4"/>
<path d="M121.30,547.40 L122.29,547.46 L123.28,547.47 L124.27,547.41 L125.26,547.32 L126.25,547.16 L127.24,547.00 L128.23,546.83 L129.22,546.64 L130.21,546.40 L131.20,546.10 L132.19,545.76 L133.18,545.38 L134.17,544.97 L135.16,544.53 L136.15,544.08 L137.14,543.63 L138.13,543.19 L139.12,542.75 L140.11,542.29 L141.10,541.84 L142.09,541.42 L143.08,541.02 L144.07,540.65 L145.06,540.29 L146.05,539.95 L147.04,539.63 L148.03,539.33 L149.02,539.07 L150.01,538.83 L151.00,538.64 L151.99,538.50 L152.98,538.43 L153.97,538.46 L154.96,538.51 L155.95,538.60 L156.94,538.71 L157.93,538.81 L158.92,538.92 L159.91,539.04 L160.90,539.17 L161.89,539.30 L162.88,539.44 L163.87,539.58 L164.86,539.73 L165.85,539.88 L166.84,540.04 L167.83,540.20 L168.82,540.37 L169.81,540.55 L170.80,540.74 L171.79,540.93 L172.78,541.12 L173.77,541.31 L174.76,541.51 L175.75,541.71 L176.74,541.92 L177.73,542.13 L178.72,542.35 L179.71,542.59 L180.70,542.83 L181.69,543.08 L182.68,543.32 L183.67,543.57 L184.66,543.82 L185.65,544.07 L186.64,544.33 L187.63,544.59 L188.62,544.88 L189.61,545.16 L190.59,545.45 L191.58,545.74 L192.57,546.02 L193.56,546.31 L194.55,546.61 L195.54,546.90 L196.53,547.21 L197.52,547.51 L198.51,547.82 L199.50,548.12 L200.49,548.42 L201.48,548.73 L202.47,549.03 L203.46,549.33 L204.45,549.64 L205.44,549.94 L206.43,550.25 L207.42,550.55 L208.41,550.86 L209.40,551.16 L210.39,551.46 L211.38,551.76 L212.37,552.06 L213.36,552.36 L214.35,552.65 L215.34,552.95 L216.33,553.24 L217.32,553.53 L218.31,553.81 L219.30,554.08 L220.29,554.34 L221.28,554.60 L222.27,554.85 L223.26,555.10 L224.25,555.36 L225.24,555.61 L226.23,555.86 L227.22,556.11 L228.21,556.36 L229.20,556.61 L230.19,556.85 L231.18,557.09 L232.17,557.33 L233.16,557.56 L234.15,557.79 L235.14,558.01 L236.13,558.23 L237.12,558.45 L238.11,558.66 L239.10,558.86 L240.09,559.06 L241.08,559.25 L242.07,559.44 L243.06,559.62 L244.05,559.79 L245.04,559.96 L246.03,560.13 L247.02,560.29 L248.01,560.44 L249.00,560.59 L249.99,560.73 L250.98,560.88 L251.97,561.02 L252.96,561.15 L253.95,561.29 L254.94,561.42 L255.93,561.54 L256.92,561.65 L257.91,561.76 L258.90,561.86" fill="none" stroke="#f4a582" stroke-width="1.4" stroke-linejoin="round" />
<path d="M52.50,541.59 L53.50,541.72 L54.49,541.85 L55.49,541.99 L56.49,542.13 L57.49,542.27 L58.48,542.41 L59.48,542.56 L60.48,542.72 L61.47,542.87 L62.47,543.02 L63.47,543.17 L64.47,543.32 L65.46,543.47 L66.46,543.62 L67.46,543.77 L68.45,543.92 L69.45,544.07 L70.45,544.22 L71.44,544.37 L72.44,544.52 L73.44,544.67 L74.44,544.82 L75.43,544.96 L76.43,545.10 L77.43,545.24 L78.42,545.38 L79.42,545.52 L80.42,545.65 L81.42,545.77 L82.41,545.88 L83.41,545.98 L84.41,546.08 L85.40,546.18 L86.40,546.28 L87.40,546.38 L88.40,546.48 L89.39,546.58 L90.39,546.67 L91.39,546.76 L92.38,546.85 L93.38,546.94 L94.38,547.02 L95.38,547.10 L96.37,547.17 L97.37,547.25 L98.37,547.32 L99.36,547.38 L100.36,547.43 L101.36,547.48 L102.36,547.53 L103.35,547.57 L104.35,547.60 L105.35,547.63 L106.34,547.65 L107.34,547.66 L108.34,547.67 L109.33,547.68 L110.33,547.68 L111.33,547.67 L112.33,547.66 L113.32,547.65 L114.32,547.64 L115.32,547.62 L116.31,547.60 L117.31,547.57 L118.31,547.54 L119.31,547.50 L120.30,547.45 L121.30,547.40" fill="none" stroke="#b2182b" stroke-width="1.4" stroke-linejoin="round" stroke-dasharray="3.2 4.4"/>
<path d="M258.90,540.38 L259.90,540.28 L260.89,540.13 L261.89,539.92 L262.89,539.66 L263.89,539.35 L264.88,539.03 L265.88,538.71 L266.88,538.36 L267.87,537.95 L268.87,537.49 L269.87,536.99 L270.87,536.45 L271.86,535.88 L272.86,535.28 L273.86,534.67 L274.85,534.06 L275.85,533.46 L276.85,532.86 L277.84,532.25 L278.84,531.64 L279.84,531.07 L280.84,530.51 L281.83,529.98 L282.83,529.46 L283.83,528.97 L284.82,528.50 L285.82,528.05 L286.82,527.63 L287.82,527.24 L288.81,526.91 L289.81,526.62 L290.81,526.43 L291.80,526.30 L292.80,526.21 L293.80,526.16 L294.80,526.11 L295.79,526.05 L296.79,526.01 L297.79,525.98 L298.78,525.95 L299.78,525.94 L300.78,525.92 L301.78,525.90 L302.77,525.90 L303.77,525.90 L304.77,525.91 L305.76,525.92 L306.76,525.93 L307.76,525.96 L308.76,526.00 L309.75,526.03 L310.75,526.07 L311.75,526.11 L312.74,526.15 L313.74,526.20 L314.74,526.26 L315.73,526.32 L316.73,526.39 L317.73,526.48 L318.73,526.57 L319.72,526.66 L320.72,526.75 L321.72,526.85 L322.71,526.94 L323.71,527.04 L324.71,527.15 L325.71,527.27 L326.70,527.41 L327.70,527.54" fill="none" stroke="#b2182b" stroke-width="1.4" stroke-linejoin="round" stroke-dasharray="3.2 4.4"/>
<path d="M121.30,547.40 L122.29,547.31 L123.28,547.16 L124.27,546.95 L125.26,546.70 L126.25,546.39 L127.24,546.07 L128.23,545.75 L129.22,545.41 L130.21,545.01 L131.20,544.55 L132.19,544.06 L133.18,543.52 L134.17,542.96 L135.16,542.37 L136.15,541.76 L137.14,541.16 L138.13,540.56 L139.12,539.96 L140.11,539.35 L141.10,538.75 L142.09,538.18 L143.08,537.62 L144.07,537.09 L145.06,536.58 L146.05,536.08 L147.04,535.61 L148.03,535.16 L149.02,534.74 L150.01,534.34 L151.00,534.00 L151.99,533.71 L152.98,533.48 L153.97,533.35 L154.96,533.25 L155.95,533.19 L156.94,533.14 L157.93,533.09 L158.92,533.04 L159.91,533.01 L160.90,532.98 L161.89,532.96 L162.88,532.95 L163.87,532.93 L164.86,532.92 L165.85,532.92 L166.84,532.93 L167.83,532.94 L168.82,532.95 L169.81,532.98 L170.80,533.01 L171.79,533.04 L172.78,533.08 L173.77,533.12 L174.76,533.16 L175.75,533.21 L176.74,533.26 L177.73,533.32 L178.72,533.39 L179.71,533.47 L180.70,533.55 L181.69,533.65 L182.68,533.74 L183.67,533.83 L184.66,533.92 L185.65,534.02 L186.64,534.13 L187.63,534.24 L188.62,534.36 L189.61,534.50 L190.59,534.63 L191.58,534.76 L192.57,534.89 L193.56,535.03 L194.55,535.17 L195.54,535.31 L196.53,535.46 L197.52,535.61 L198.51,535.76 L199.50,535.91 L200.49,536.06 L201.48,536.20 L202.47,536.35 L203.46,536.50 L204.45,536.65 L205.44,536.80 L206.43,536.95 L207.42,537.10 L208.41,537.25 L209.40,537.40 L210.39,537.55 L211.38,537.70 L212.37,537.84 L213.36,537.98 L214.35,538.12 L215.34,538.26 L216.33,538.40 L217.32,538.54 L218.31,538.66 L219.30,538.78 L220.29,538.89 L221.28,538.99 L222.27,539.08 L223.26,539.18 L224.25,539.28 L225.24,539.38 L226.23,539.48 L227.22,539.57 L228.21,539.67 L229.20,539.76 L230.19,539.84 L231.18,539.93 L232.17,540.01 L233.16,540.09 L234.15,540.16 L235.14,540.23 L236.13,540.30 L237.12,540.36 L238.11,540.42 L239.10,540.47 L240.09,540.51 L241.08,540.55 L242.07,540.58 L243.06,540.61 L244.05,540.62 L245.04,540.64 L246.03,540.65 L247.02,540.65 L248.01,540.65 L249.00,540.65 L249.99,540.64 L250.98,540.63 L251.97,540.61 L252.96,540.59 L253.95,540.57 L254.94,540.55 L255.93,540.52 L256.92,540.47 L257.91,540.42 L258.90,540.38" fill="none" stroke="#b2182b" stroke-width="1.4" stroke-linejoin="round" />
</g>
<rect x="52.5" y="358.2" width="275.20" height="275.20" fill="none" stroke="#1e1e1e" stroke-width="1.0"/>
<line x1="52.50" y1="495.85" x2="327.70" y2="495.85" stroke="#383838" stroke-width="1.6" />
<line x1="75.43" y1="358.20" x2="75.43" y2="363.70" stroke="#1e1e1e" stroke-width="1.0" />
<line x1="75.43" y1="495.85" x2="75.43" y2="490.35" stroke="#1e1e1e" stroke-width="1.0" />
<line x1="75.43" y1="633.40" x2="75.43" y2="627.90" stroke="#1e1e1e" stroke-width="1.0" />
<text x="75.43" y="651.00" font-size="12.5" text-anchor="middle" fill="#000000" >-0.2</text>
<line x1="121.30" y1="358.20" x2="121.30" y2="363.70" stroke="#1e1e1e" stroke-width="1.0" />
<line x1="121.30" y1="495.85" x2="121.30" y2="490.35" stroke="#1e1e1e" stroke-width="1.0" />
<line x1="121.30" y1="633.40" x2="121.30" y2="627.90" stroke="#1e1e1e" stroke-width="1.0" />
<text x="119.50" y="651.00" font-size="12.5" text-anchor="middle" fill="#000000" >0</text>
<line x1="167.17" y1="358.20" x2="167.17" y2="363.70" stroke="#1e1e1e" stroke-width="1.0" />
<line x1="167.17" y1="495.85" x2="167.17" y2="490.35" stroke="#1e1e1e" stroke-width="1.0" />
<line x1="167.17" y1="633.40" x2="167.17" y2="627.90" stroke="#1e1e1e" stroke-width="1.0" />
<text x="165.37" y="651.00" font-size="12.5" text-anchor="middle" fill="#000000" >0.2</text>
<line x1="213.03" y1="358.20" x2="213.03" y2="363.70" stroke="#1e1e1e" stroke-width="1.0" />
<line x1="213.03" y1="495.85" x2="213.03" y2="490.35" stroke="#1e1e1e" stroke-width="1.0" />
<line x1="213.03" y1="633.40" x2="213.03" y2="627.90" stroke="#1e1e1e" stroke-width="1.0" />
<text x="211.23" y="651.00" font-size="12.5" text-anchor="middle" fill="#000000" >0.4</text>
<line x1="258.90" y1="358.20" x2="258.90" y2="363.70" stroke="#1e1e1e" stroke-width="1.0" />
<line x1="258.90" y1="495.85" x2="258.90" y2="490.35" stroke="#1e1e1e" stroke-width="1.0" />
<line x1="258.90" y1="633.40" x2="258.90" y2="627.90" stroke="#1e1e1e" stroke-width="1.0" />
<text x="257.10" y="651.00" font-size="12.5" text-anchor="middle" fill="#000000" >0.6</text>
<line x1="304.77" y1="358.20" x2="304.77" y2="363.70" stroke="#1e1e1e" stroke-width="1.0" />
<line x1="304.77" y1="495.85" x2="304.77" y2="490.35" stroke="#1e1e1e" stroke-width="1.0" />
<line x1="304.77" y1="633.40" x2="304.77" y2="627.90" stroke="#1e1e1e" stroke-width="1.0" />
<text x="302.97" y="651.00" font-size="12.5" text-anchor="middle" fill="#000000" >0.8</text>
<text x="186.90" y="668.00" font-size="13" text-anchor="middle" fill="#000000" >x[nm]</text>
<line x1="52.50" y1="461.44" x2="57.50" y2="461.44" stroke="#1e1e1e" stroke-width="1.0" />
<line x1="327.70" y1="461.44" x2="322.70" y2="461.44" stroke="#1e1e1e" stroke-width="1.0" />
<line x1="52.50" y1="427.02" x2="57.50" y2="427.02" stroke="#1e1e1e" stroke-width="1.0" />
<line x1="327.70" y1="427.02" x2="322.70" y2="427.02" stroke="#1e1e1e" stroke-width="1.0" />
<line x1="52.50" y1="392.61" x2="57.50" y2="392.61" stroke="#1e1e1e" stroke-width="1.0" />
<line x1="327.70" y1="392.61" x2="322.70" y2="392.61" stroke="#1e1e1e" stroke-width="1.0" />
<text x="40.70" y="500.85" font-size="12.0" text-anchor="end" fill="#000000" >0</text>
<text x="40.70" y="466.44" font-size="12.0" text-anchor="end" fill="#000000" >5</text>
<text x="40.70" y="432.02" font-size="12.0" text-anchor="end" fill="#000000" >10</text>
<text x="40.70" y="397.61" font-size="12.0" text-anchor="end" fill="#000000" >15</text>
<text x="40.70" y="363.20" font-size="12.0" text-anchor="end" fill="#000000" >20</text>
<line x1="52.50" y1="512.96" x2="57.50" y2="512.96" stroke="#1e1e1e" stroke-width="1.0" />
<line x1="327.70" y1="512.96" x2="322.70" y2="512.96" stroke="#1e1e1e" stroke-width="1.0" />
<text x="40.70" y="517.96" font-size="12.3" text-anchor="end" fill="#000000" >50</text>
<line x1="52.50" y1="547.40" x2="57.50" y2="547.40" stroke="#1e1e1e" stroke-width="1.0" />
<line x1="327.70" y1="547.40" x2="322.70" y2="547.40" stroke="#1e1e1e" stroke-width="1.0" />
<text x="40.70" y="552.40" font-size="12.3" text-anchor="end" fill="#000000" >0</text>
<line x1="52.50" y1="581.84" x2="57.50" y2="581.84" stroke="#1e1e1e" stroke-width="1.0" />
<line x1="327.70" y1="581.84" x2="322.70" y2="581.84" stroke="#1e1e1e" stroke-width="1.0" />
<text x="44.50" y="586.84" font-size="12.3" text-anchor="end" fill="#000000" >-50</text>
<line x1="52.50" y1="616.27" x2="57.50" y2="616.27" stroke="#1e1e1e" stroke-width="1.0" />
<line x1="327.70" y1="616.27" x2="322.70" y2="616.27" stroke="#1e1e1e" stroke-width="1.0" />
<text x="44.50" y="621.27" font-size="12.3" text-anchor="end" fill="#000000" >-100</text>
<line x1="52.50" y1="530.18" x2="55.10" y2="530.18" stroke="#1e1e1e" stroke-width="1.0" />
<line x1="327.70" y1="530.18" x2="325.10" y2="530.18" stroke="#1e1e1e" stroke-width="1.0" />
<line x1="52.50" y1="564.62" x2="55.10" y2="564.62" stroke="#1e1e1e" stroke-width="1.0" />
<line x1="327.70" y1="564.62" x2="325.10" y2="564.62" stroke="#1e1e1e" stroke-width="1.0" />
<line x1="52.50" y1="599.05" x2="55.10" y2="599.05" stroke="#1e1e1e" stroke-width="1.0" />
<line x1="327.70" y1="599.05" x2="325.10" y2="599.05" stroke="#1e1e1e" stroke-width="1.0" />
<text transform="translate(17.5,455.4) rotate(-90)" font-size="14.6" fill="#000000" textLength="59.0" lengthAdjust="spacingAndGlyphs">U[pNnm]</text>
<g transform="translate(0,603.0) rotate(-90)">
<text x="0" y="17.1" font-size="14" fill="#000000" textLength="29.6" lengthAdjust="spacingAndGlyphs">U-xf</text>
<text x="29.9" y="19.7" font-size="12.8" fill="#000000" textLength="17.0" lengthAdjust="spacing">tilt</text>
<text x="50.4" y="17.5" font-size="14.6" fill="#000000" textLength="48.0" lengthAdjust="spacingAndGlyphs">[pNnm]</text>
</g>
<text x="64.30" y="377.50" font-size="10.4" text-anchor="start" fill="#1a1a1a" stroke="none" textLength="49.4" lengthAdjust="spacingAndGlyphs">1D derived</text>
<text x="61.3" y="390.6" font-size="10.4" fill="#1a1a1a" stroke="none" textLength="75.0" lengthAdjust="spacingAndGlyphs">potential at f=f<tspan font-size="7.5" dy="1.6">0</tspan></text>
<text x="117.80" y="513.80" font-size="10.4" text-anchor="middle" fill="#1a1a1a" stroke="none" textLength="24.2" lengthAdjust="spacingAndGlyphs">Tilted</text>
<text x="119.60" y="525.80" font-size="10.4" text-anchor="middle" fill="#1a1a1a" stroke="none" textLength="41.0" lengthAdjust="spacingAndGlyphs">potential</text>
<rect x="67.7" y="559.5" width="39.9" height="64.9" fill="#ffffff" stroke="#4d4d4d" stroke-width="0.9"/>
<line x1="87.60" y1="559.50" x2="87.60" y2="624.40" stroke="#4d4d4d" stroke-width="0.9" />
<text x="69.6" y="570.2" font-size="11.6" fill="#000000">f<tspan font-size="10.6" dy="1.8" textLength="11.2" lengthAdjust="spacing">tilt</tspan></text>
<text x="98.20" y="570.20" font-size="11.6" text-anchor="middle" fill="#000000" >f</text>
<text x="109.60" y="570.20" font-size="10.8" text-anchor="start" fill="#000000" textLength="19.8" lengthAdjust="spacingAndGlyphs">[pN]</text>
<text x="84.30" y="583.40" font-size="10.0" text-anchor="end" fill="#000000" stroke-width="0.1" textLength="13.3" lengthAdjust="spacingAndGlyphs">-17</text>
<text x="98.00" y="583.40" font-size="10.0" text-anchor="middle" fill="#000000" stroke-width="0.1">0</text>
<line x1="111.00" y1="579.80" x2="129.60" y2="579.80" stroke="#b2182b" stroke-width="1.4" />
<text x="84.30" y="596.80" font-size="10.0" text-anchor="end" fill="#000000" stroke-width="0.1" textLength="10.4" lengthAdjust="spacingAndGlyphs">35</text>
<text x="98.00" y="596.80" font-size="10.0" text-anchor="middle" fill="#000000" stroke-width="0.1">52</text>
<line x1="111.00" y1="593.20" x2="129.60" y2="593.20" stroke="#f4a582" stroke-width="1.4" />
<text x="84.30" y="609.70" font-size="10.0" text-anchor="end" fill="#000000" stroke-width="0.1" textLength="10.4" lengthAdjust="spacingAndGlyphs">70</text>
<text x="98.00" y="609.70" font-size="10.0" text-anchor="middle" fill="#000000" stroke-width="0.1">87</text>
<line x1="111.00" y1="606.10" x2="129.60" y2="606.10" stroke="#d1e5f0" stroke-width="1.4" />
<text x="84.30" y="622.80" font-size="10.0" text-anchor="end" fill="#000000" stroke-width="0.1" textLength="15.6" lengthAdjust="spacingAndGlyphs">150</text>
<text x="98.00" y="622.80" font-size="10.0" text-anchor="middle" fill="#000000" stroke-width="0.1">167</text>
<line x1="111.00" y1="619.20" x2="129.60" y2="619.20" stroke="#4393c3" stroke-width="1.4" />
</svg></body></html>
